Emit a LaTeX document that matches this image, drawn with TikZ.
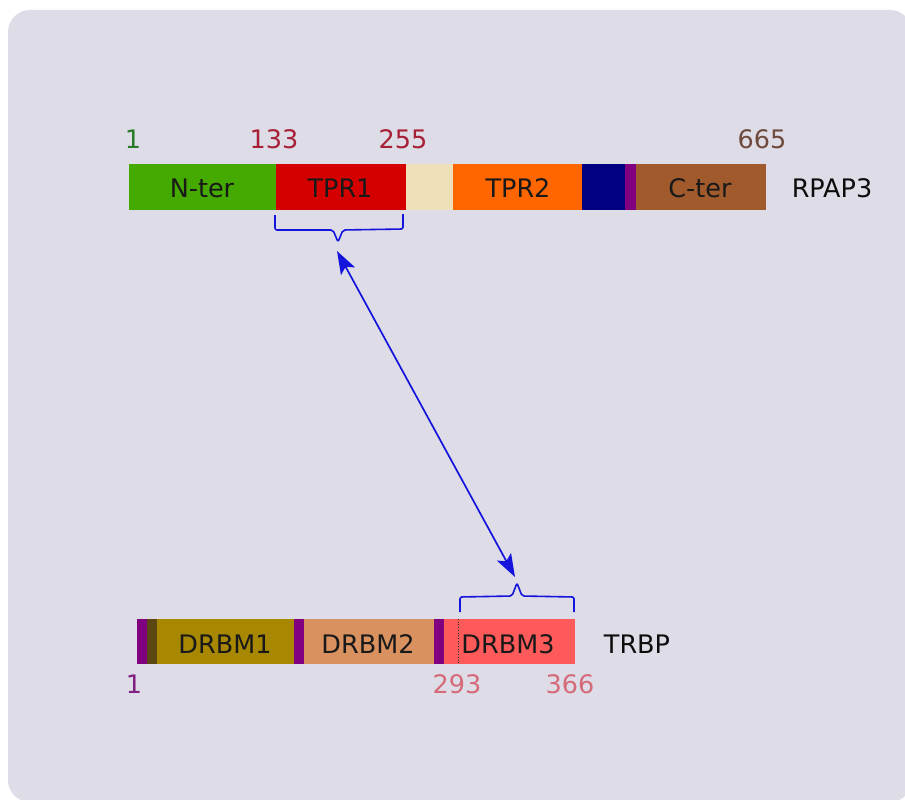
\documentclass[tikz,border=0pt]{standalone}
\usepackage{fontspec}
\setmainfont{DejaVu Sans}
\usetikzlibrary{arrows.meta}
\definecolor{bgc}{HTML}{DDDCE7}
\definecolor{cgreen}{HTML}{44AA00}
\definecolor{cred}{HTML}{D40000}
\definecolor{ccream}{HTML}{EFE0B9}
\definecolor{corange}{HTML}{FF6600}
\definecolor{cnavy}{HTML}{000080}
\definecolor{cpurple}{HTML}{800080}
\definecolor{cbrown}{HTML}{A05A2C}
\definecolor{colive}{HTML}{A88800}
\definecolor{cdolive}{HTML}{5A4712}
\definecolor{ctan}{HTML}{D9925F}
\definecolor{csalmon}{HTML}{FF5A5A}
\definecolor{nGreen}{HTML}{2A7A2A}
\definecolor{nRed}{HTML}{A82035}
\definecolor{nBrown}{HTML}{6E4B3C}
\definecolor{nPurple}{HTML}{802080}
\definecolor{nPink}{HTML}{D56A78}
\definecolor{cblue}{HTML}{1414DC}
\tikzset{
  lbl/.style={anchor=base, inner sep=0pt, text=black!90, font=\fontsize{25.5}{30}\selectfont},
  num/.style={anchor=base, inner sep=0pt, font=\fontsize{25.5}{30}\selectfont},
  brk/.style={draw=cblue, line width=1.6pt, line join=round},
  link/.style={draw=cblue, line width=1.7pt, {Stealth[length=23pt,width=16pt,inset=5pt]}-{Stealth[length=23pt,width=16pt,inset=5pt]}}
}
\begin{document}
\begin{tikzpicture}[x=1pt,y=-1pt]
\useasboundingbox (0,0) rectangle (905,800);
\clip (0,0) rectangle (905,800);
\fill[white] (0,0) rectangle (905,800);
\fill[bgc, rounded corners=22pt] (8,10) rectangle (912,802);

% RPAP3 bar
\fill[cgreen]  (129,164) rectangle (276,210);
\fill[cred]    (276,164) rectangle (406,210);
\fill[ccream]  (406,164) rectangle (453,210);
\fill[corange] (453,164) rectangle (582,210);
\fill[cnavy]   (582,164) rectangle (625,210);
\fill[cpurple] (625,164) rectangle (636,210);
\fill[cbrown]  (636,164) rectangle (766,210);

\node[lbl] (nter) at (202,197) {N-ter};
\node[lbl] (tpr1) at (340,197) {TPR1};
\node[lbl] (tpr2) at (518,197) {TPR2};
\node[lbl] (cter) at (700,197) {C-ter};
\node[lbl, text=black!95] (rpap3) at (832,197) {RPAP3};

\node[num, text=nGreen] (n1) at (133,148) {1};
\node[num, text=nRed] (n133) at (274,148) {133};
\node[num, text=nRed] (n255) at (403,148) {255};
\node[num, text=nBrown] (n665) at (762,148) {665};

% TRBP bar
\fill[cpurple] (137,619) rectangle (147,664);
\fill[cdolive] (147,619) rectangle (157,664);
\fill[colive]  (157,619) rectangle (294,664);
\fill[cpurple] (294,619) rectangle (304,664);
\fill[ctan]    (304,619) rectangle (434,664);
\fill[cpurple] (434,619) rectangle (444,664);
\fill[csalmon] (444,619) rectangle (575,664);
\draw[black!80, line width=0.7pt, dotted] (458,619) -- (458,664);

\node[lbl] (drbm1) at (225,653) {DRBM1};
\node[lbl] (drbm2) at (368,653) {DRBM2};
\node[lbl] (drbm3) at (508,653) {DRBM3};
\node[lbl, text=black!95] (trbp) at (637,653) {TRBP};

\node[num, text=nPurple] (m1) at (134,693) {1};
\node[num, text=nPink] (m293) at (457,693) {293};
\node[num, text=nPink] (m366) at (570,693) {366};

% brackets
\coordinate (tipA) at (338,242);
\coordinate (tipB) at (517,583);
\draw[brk, rounded corners=2pt] (275,215) -- (275,230) -- (333,230) -- (tipA) -- (343,230) -- (403,229) -- (403,214);
\draw[brk, rounded corners=2pt] (460,612) -- (460,597) -- (512,596) -- (tipB) -- (522,596) -- (574,597) -- (574,612);

% link
\coordinate (endA) at (337,251);
\coordinate (endB) at (515,577);
\draw[link] (endA) -- (endB);
\end{tikzpicture}
\end{document}
